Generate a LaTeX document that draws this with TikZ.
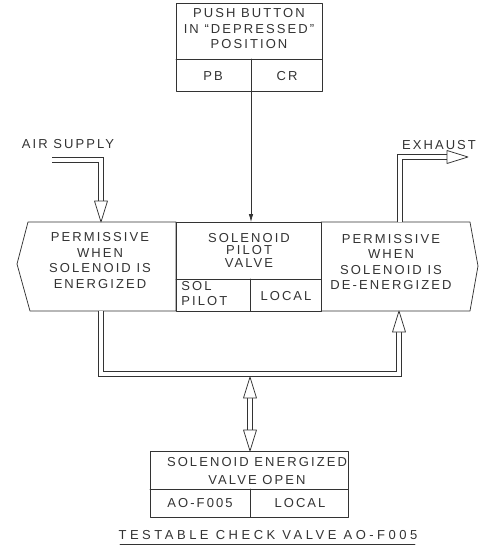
\documentclass[tikz,border=0pt]{standalone}
\usepackage{fontspec}
\newfontfamily\drfont{Liberation Sans}[LetterSpace=16]
\newfontfamily\capfont{Liberation Sans}[LetterSpace=27]
\usetikzlibrary{arrows.meta}
\begin{document}
\begin{tikzpicture}[x=1pt,y=-1pt,line width=.75pt,line cap=round,
  line join=round,draw=black!80,text=black!80,
  font=\drfont\fontsize{13}{15.5}\selectfont,
  pipe/.style={line width=5.2pt,line cap=butt,line join=miter,
    postaction={draw=white,line width=3.7pt,line cap=butt,line join=miter}},
  lbl/.style={align=center,inner sep=0pt}]
  \def\hA#1#2{%
    \begin{scope}[shift={(#1)},rotate=#2]
      \draw[fill=white] (0,0)--(-21,6.5)--(-21,-6.5)--cycle;
    \end{scope}}
  \useasboundingbox (0,0) rectangle (490,549);
  % push button
  \draw (176,3) rectangle (322,91);
  \draw (176,59)--(322,59);
  \draw (251,59)--(251,91);
  \node[lbl] (pbtxt) at (249,29) {PUSH BUTTON\\IN “DEPRESSED”\\POSITION};
  \node[lbl] (pb) at (213,76) {PB};
  \node[lbl] (cr) at (287,76) {CR};
  \coordinate (pbout) at (251,91);
  \coordinate (solin) at (251,222);
  \draw[-{Latex[length=8pt,width=4.5pt]}] (pbout)--(solin);
  % valve row
  \draw (28,222)--(176,222)--(176,311)--(30,311)--(17,264)--cycle;
  \draw (176,222) rectangle (321,311);
  \draw (176,279)--(321,279);
  \draw (250,279)--(250,311);
  \draw (321,222)--(470,222)--(478,266)--(470,311)--(321,311);
  \node[lbl] (permon) at (100,260.5)
    {PERMISSIVE\\WHEN\\SOLENOID IS\\ENERGIZED};
  \node[lbl,font=\drfont\fontsize{13}{12.5}\selectfont] (solv) at (249,250)
    {SOLENOID\\PILOT\\VALVE};
  \node[lbl,align=left,anchor=west,font=\drfont\fontsize{13}{15}\selectfont]
    (solpilot) at (181,294) {SOL\\PILOT};
  \node[lbl] (sollocal) at (286,296) {LOCAL};
  \node[lbl] (permoff) at (391,262)
    {PERMISSIVE\\WHEN\\SOLENOID IS\\DE-ENERGIZED};
  % air supply
  \node[lbl] (airsup) at (68,144) {AIR SUPPLY};
  \coordinate (airA) at (52,160);
  \coordinate (airB) at (101,160);
  \coordinate (airC) at (101,201);
  \coordinate (airT) at (101,222);
  \draw[pipe] (airA)--(airB)--(airC);
  \hA{airT}{-90}
  % exhaust
  \node[lbl] (exh) at (439,145) {EXHAUST};
  \coordinate (exA) at (400,222);
  \coordinate (exB) at (400,157);
  \coordinate (exC) at (447,157);
  \coordinate (exT) at (468,157);
  \draw[pipe] (exA)--(exB)--(exC);
  \hA{exT}{0}
  % bottom loop
  \coordinate (lpA) at (101,311);
  \coordinate (lpB) at (101,374);
  \coordinate (lpC) at (399,374);
  \coordinate (lpD) at (399,332);
  \coordinate (lpT) at (399,311);
  \draw[pipe] (lpA)--(lpB)--(lpC)--(lpD);
  \hA{lpT}{90}
  \coordinate (mdT) at (250,377);
  \coordinate (mdA) at (250,398);
  \coordinate (mdB) at (250,430);
  \coordinate (mdU) at (250,451);
  \draw[pipe] (mdA)--(mdB);
  \hA{mdT}{90}
  \hA{mdU}{-90}
  % check valve
  \draw (150,451) rectangle (348,517);
  \draw (150,489)--(348,489);
  \draw (250,489)--(250,517);
  \node[lbl,font=\drfont\fontsize{13}{17.5}\selectfont] (aotxt) at (257,471)
    {SOLENOID ENERGIZED\\VALVE OPEN};
  \node[lbl] (aof) at (200,503) {AO-F005};
  \node[lbl] (aolocal) at (300,503) {LOCAL};
  \node[lbl,font=\capfont\fontsize{13}{15}\selectfont] (capt) at (268,535)
    {TESTABLE CHECK VALVE AO-F005};
  \draw (120,544)--(415,544);
\end{tikzpicture}
\end{document}
